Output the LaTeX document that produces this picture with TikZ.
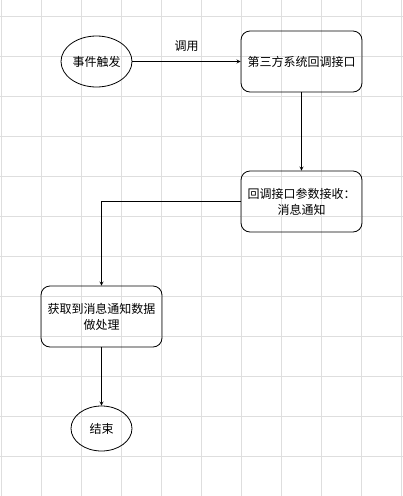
\documentclass[tikz,border=0pt]{standalone}
\usepackage{fontspec}
\usepackage{tikz}
\usetikzlibrary{shapes,arrows,positioning,calc}
\setmainfont{Noto Sans CJK SC}
\definecolor{gridgray}{RGB}{222, 222, 222}

\begin{document}
\begin{tikzpicture}[
    x=1pt, y=-1pt,
    every node/.style={align=center, font=\fontsize{12}{16}\selectfont},
    gridline/.style={draw=gridgray, line width=0.8pt},
    terminal/.style={ellipse, draw=black, thick, inner sep=0pt},
    process/.style={rectangle, rounded corners=9pt, minimum width=121pt, minimum height=61pt, text centered, draw=black, thick},
    arrow/.style={thick,->,>=stealth}
]
\useasboundingbox (0,0) rectangle (403,496);

% Background grid
\foreach \gx in {1.7,41.7,...,401.7} {
    \draw[gridline] (\gx,0) -- (\gx,496);
}
\foreach \gy in {16,56,...,496} {
    \draw[gridline] (0,\gy) -- (403,\gy);
}

% Flow nodes
\node[terminal, minimum width=71pt, minimum height=51pt] (trigger) at (96.5,61.5) {事件触发};
\node[process] (callback) at (301.5,61.5) {第三方系统回调接口};
\node[process] (receive) at (301.5,201.5) {回调接口参数接收：\\消息通知};
\node[process] (handle) at (101.5,316.5) {获取到消息通知数据\\做处理};
\node[terminal, minimum width=61pt, minimum height=45pt] (finish) at (101.5,428.5) {结束};

% Connectors
\draw[arrow] (trigger) -- node[above=6pt] {调用} (callback);
\draw[arrow] (callback) -- (receive);
\draw[arrow] (receive.west) -| (handle.north);
\draw[arrow] (handle) -- (finish);

\end{tikzpicture}
\end{document}
